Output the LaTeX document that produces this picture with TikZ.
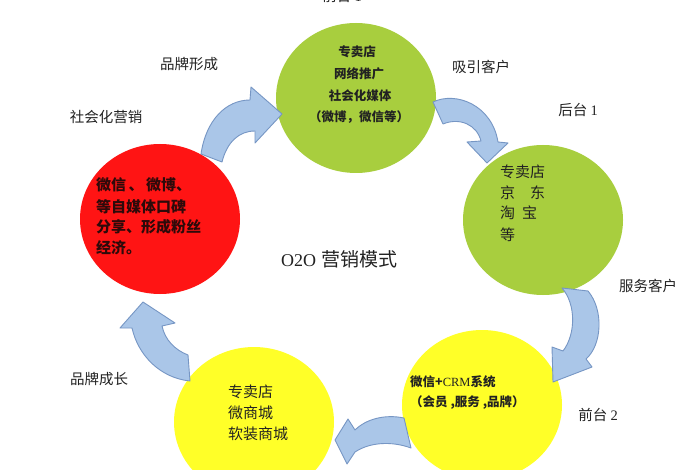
\documentclass[tikz,border=0pt]{standalone}
\usepackage{fontspec}
\setmainfont{Liberation Serif}
\newfontfamily\cjk{Noto Sans CJK SC}
\usetikzlibrary{shapes.geometric}
\definecolor{cgreen}{RGB}{168,206,62}
\definecolor{cred}{RGB}{255,20,20}
\definecolor{cyellow}{RGB}{255,255,40}
\definecolor{arrfill}{RGB}{170,198,232}
\definecolor{arrline}{RGB}{118,150,196}
\definecolor{txt}{RGB}{34,34,34}
\begin{document}
\begin{tikzpicture}[x=1pt,y=-1pt,
  circ/.style={ellipse, minimum width=160pt, minimum height=150pt, inner sep=0pt},
  arr/.style={fill=arrfill, draw=arrline, line width=0.9pt, line join=round},
  lbl/.style={font=\fontsize{14.5}{17}\selectfont\cjk, text=txt, inner sep=0pt},
  gtop/.style={font=\fontsize{12.5}{15}\selectfont\cjk\bfseries, text=txt, inner sep=0pt},
  rtext/.style={font=\fontsize{15}{18}\selectfont\cjk\bfseries, text={rgb,255:red,45;green,10;blue,10}, inner sep=0pt, anchor=west},
  gtext/.style={font=\fontsize{15}{18}\selectfont\cjk, text=txt, inner sep=0pt, anchor=west},
  ytext/.style={font=\fontsize{15}{18}\selectfont\cjk, text=txt, inner sep=0pt, anchor=west},
  y2text/.style={font=\fontsize{12.5}{15}\selectfont\cjk\bfseries, text=txt, inner sep=0pt, anchor=west}
]
\useasboundingbox (0,0) rectangle (700,470);
\fill[white] (0,0) rectangle (700,470);

% circles
\node[circ, fill=cgreen] (tg) at (356,98) {};
\node[circ, fill=cgreen] (rg) at (543,220) {};
\node[circ, fill=cred] (rd) at (160,219) {};
\node[circ, fill=cyellow] (ry) at (482,405) {};
\node[circ, fill=cyellow] (ly) at (254,422) {};

% curved arrows
\draw[arr] (201,154) .. controls (206,120) and (226,100) .. (250,100) -- (251,87) -- (282,114) -- (255,143) -- (255,131)
  .. controls (239,131) and (227,142) .. (222,162) -- cycle;
\draw[arr] (433,102) .. controls (456,91) and (492,105) .. (498,142) -- (508,143) -- (487,163) -- (467,142) -- (481,141)
  .. controls (477,125) and (460,117) .. (443,124) -- cycle;
\draw[arr] (588,291) .. controls (604,310) and (602,345) .. (586,359) -- (592,367) -- (553,382) -- (552,347) -- (563,351)
  .. controls (576,334) and (576,304) .. (562,288) -- cycle;
\draw[arr] (404,418) .. controls (385,414) and (366,419) .. (355,430) -- (348,419) -- (335,440) -- (347,464) -- (355,452)
  .. controls (370,442) and (392,441) .. (411,448) -- cycle;
\draw[arr] (188,355) .. controls (175,350) and (165,340) .. (162,326) -- (175,323) -- (143,302) -- (120,328) -- (132,328)
  .. controls (138,355) and (160,378) .. (190,381) -- cycle;

% top green text
\node[gtop] (t1) at (357,52) {专卖店};
\node[gtop] (t2) at (359,74) {网络推广};
\node[gtop] (t3) at (360,96) {社会化媒体};
\node[gtop] (t4) at (359,117) {（微博，微信等）};

% red text
\node[rtext] (r1) at (96,185) {微信\,、\,微博、};
\node[rtext] (r2) at (96,207) {等自媒体口碑};
\node[rtext] (r3) at (96,227) {分享、形成粉丝};
\node[rtext] (r4) at (96,248) {经济。};

% right green text
\node[gtext] (g1) at (500,172) {专卖店};
\node[gtext] (g2) at (500,193) {京\hspace{15pt}东};
\node[gtext] (g3) at (500,213) {淘\hspace{7pt}宝};
\node[gtext] (g4) at (500,235) {等};

% left yellow text
\node[ytext] (y1) at (228,392) {专卖店};
\node[ytext] (y2) at (228,413) {微商城};
\node[ytext] (y3) at (228,434) {软装商城};

% right yellow text
\node[y2text] (z1) at (410,382) {微信+{\rmfamily\mdseries CRM}系统};
\node[y2text] (z2) at (410,403) {（会员 ,服务 ,品牌）};

% center title
\node[inner sep=0pt, text=txt] (title) at (339,259) {{\fontsize{18}{20}\selectfont O2O}\hspace{5pt}{\fontsize{19}{21}\selectfont\cjk 营销模式}};

% outside labels
\node[lbl] (a1) at (342,-4) {前台 {\rmfamily 1}};
\node[lbl] (a2) at (189,64) {品牌形成};
\node[lbl] (a3) at (106,117) {社会化营销};
\node[lbl] (a4) at (481,67) {吸引客户};
\node[lbl] (a5) at (578,110) {后台 {\rmfamily 1}};
\node[lbl] (a6) at (648,286) {服务客户};
\node[lbl] (a7) at (598,415) {前台 {\rmfamily 2}};
\node[lbl] (a8) at (99,379) {品牌成长};
\end{tikzpicture}
\end{document}
